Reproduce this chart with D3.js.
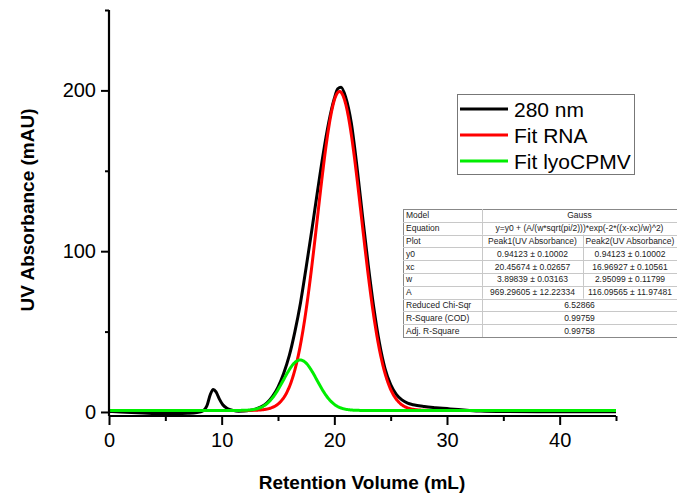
<!DOCTYPE html>
<html>
<head>
<meta charset="utf-8">
<script src="https://cdn.jsdelivr.net/npm/d3@7"></script>
<style>
  html, body { margin: 0; padding: 0; background: #fff; }
  svg { display: block; font-family: "Liberation Sans", Arial, sans-serif; }
</style>
</head>
<body>
<svg id="chart" width="677" height="496"></svg>
<script>
// Measured 280 nm absorbance trace (retention volume in mL, absorbance in mAU)
const traceX = [0, 1, 2, 3, 4, 5, 6, 7, 7.8, 8.3, 8.7, 9.0, 9.25, 9.5, 9.8, 10.1, 10.5, 11, 11.5, 12, 12.5, 13, 13.5, 14, 14.5, 15, 15.5, 16, 16.5, 17, 17.5, 18, 18.5, 19, 19.5, 20, 20.3, 20.6, 21, 21.5, 22, 22.5, 23, 23.5, 24, 24.5, 25, 25.5, 26, 26.5, 27, 28, 29, 30, 31, 32, 33, 35, 38, 41, 45];
const traceY = [0.3, 0, -0.4, -0.7, -0.9, -1.0, -1.0, -0.8, -0.3, 0.5, 4, 11, 14, 12.5, 8, 4.5, 2.2, 1, 0.5, 0.6, 1.0, 1.8, 3.2, 5.5, 9.5, 15.5, 24, 35, 50, 68, 90, 113, 137, 160, 180, 195, 201, 202, 196, 180, 153, 122, 92, 65, 43, 27, 17, 11, 7.5, 5.5, 4.5, 3.4, 2.7, 2.1, 1.5, 1.0, 0.6, 0.3, 0.2, 0.2, 0.2];

// Gauss fit parameters: y = y0 + (A/(w*sqrt(pi/2)))*exp(-2*((x-xc)/w)^2)
const fitNames = ["Peak1(UV Absorbance)", "Peak2(UV Absorbance)"];
const fitY0 = [0.94123, 0.94123];
const fitXc = [20.45674, 16.96927];
const fitW = [3.89839, 2.95099];
const fitA = [969.29605, 116.09565];

// Fit report table text
const tableRows = [
  ["Model", "Gauss"],
  ["Equation", "y=y0 + (A/(w*sqrt(pi/2)))*exp(-2*((x-xc)/w)^2)"],
  ["Plot", "Peak1(UV Absorbance)", "Peak2(UV Absorbance)"],
  ["y0", "0.94123 \u00b1 0.10002", "0.94123 \u00b1 0.10002"],
  ["xc", "20.45674 \u00b1 0.02657", "16.96927 \u00b1 0.10561"],
  ["w", "3.89839 \u00b1 0.03163", "2.95099 \u00b1 0.11799"],
  ["A", "969.29605 \u00b1 12.22334", "116.09565 \u00b1 11.97481"],
  ["Reduced Chi-Sqr", "6.52866"],
  ["R-Square (COD)", "0.99759"],
  ["Adj. R-Square", "0.99758"]
];

const legendLabels = ["280 nm", "Fit RNA", "Fit lyoCPMV"];
const seriesColors = ["#000000", "#ff0000", "#00ee00"];
const xTicks = [0, 10, 20, 30, 40];
const xMinor = [5, 15, 25, 35, 45];
const yTicks = [0, 100, 200];
const yMinor = [50, 150, 250];

const svg = d3.select("#chart");

const x = d3.scaleLinear().domain([0, 45]).range([109, 616]);
const y = d3.scaleLinear().domain([-2.5, 250]).range([416, 10]);

// Evaluate a Gauss model over the full x range
function gaussCurve(i) {
  const pts = [];
  const c = fitA[i] / (fitW[i] * Math.sqrt(Math.PI / 2));
  for (let k = 0; k <= 900; k++) {
    const xv = k * 0.05;
    const d = (xv - fitXc[i]) / fitW[i];
    pts.push([xv, fitY0[i] + c * Math.exp(-2 * d * d)]);
  }
  return pts;
}

const line = d3.line().x(d => x(d[0])).y(d => y(d[1])).curve(d3.curveMonotoneX);
const trace = traceX.map((v, i) => [v, traceY[i]]);

const curves = [trace, gaussCurve(0), gaussCurve(1)];
svg.append("g").selectAll("path").data(curves).join("path")
  .attr("d", d => line(d))
  .attr("fill", "none")
  .attr("stroke", (d, i) => seriesColors[i])
  .attr("stroke-width", 3)
  .attr("stroke-linejoin", "round");

// Axes
const xAxis = svg.append("g").attr("transform", "translate(0,416)")
  .call(d3.axisBottom(x).tickValues(xTicks).tickSize(9).tickPadding(8).tickFormat(d3.format("d")));
svg.append("g").attr("transform", "translate(0,416)")
  .call(d3.axisBottom(x).tickValues(xMinor).tickSize(5).tickFormat(""))
  .call(g => g.select(".domain").remove());

const yAxis = svg.append("g").attr("transform", "translate(109,0)")
  .call(d3.axisLeft(y).tickValues(yTicks).tickSize(8).tickPadding(5).tickFormat(d3.format("d")));
svg.append("g").attr("transform", "translate(109,0)")
  .call(d3.axisLeft(y).tickValues(yMinor).tickSize(4).tickFormat(""))
  .call(g => g.select(".domain").remove());

svg.selectAll(".domain").attr("stroke", "#000").attr("stroke-width", 2.2);
svg.selectAll(".tick line").attr("stroke", "#000").attr("stroke-width", 2);
svg.selectAll(".tick text").attr("font-size", 20).attr("fill", "#000")
  .attr("font-family", "'Liberation Sans', Arial, sans-serif");
xAxis.selectAll(".domain").attr("d", "M109,0H616");
yAxis.selectAll(".domain").attr("d", "M0,10V416");

// Axis titles
svg.append("text")
  .attr("x", 362).attr("y", 489)
  .attr("text-anchor", "middle")
  .attr("font-size", 19).attr("font-weight", "bold")
  .text("Retention Volume (mL)");
svg.append("text")
  .attr("transform", "translate(34,210) rotate(-90)")
  .attr("text-anchor", "middle")
  .attr("font-size", 19).attr("font-weight", "bold")
  .text("UV Absorbance (mAU)");

// Legend
const lg = svg.append("g");
lg.append("rect").attr("x", 457.5).attr("y", 94.5).attr("width", 177).attr("height", 80)
  .attr("fill", "#fff").attr("stroke", "#777").attr("stroke-width", 1);
legendLabels.forEach((t, i) => {
  const yy = 109 + i * 26;
  lg.append("line").attr("x1", 460).attr("x2", 508).attr("y1", yy).attr("y2", yy)
    .attr("stroke", seriesColors[i]).attr("stroke-width", 3);
  lg.append("text").attr("x", 514).attr("y", yy).attr("dy", "0.36em")
    .attr("font-size", 21).text(t);
});

// Fit report table
const tb = svg.append("g");
const colX = [403, 482, 583, 680];
const rowTop = 209, rowH = 12.8;
tb.append("rect").attr("x", colX[0] + 0.5).attr("y", rowTop + 0.5)
  .attr("width", colX[3] - colX[0]).attr("height", rowH * tableRows.length)
  .attr("fill", "#fff").attr("stroke", "#888").attr("stroke-width", 1);
tableRows.forEach((r, i) => {
  const top = rowTop + i * rowH;
  const cy = top + rowH / 2;
  if (i > 0) {
    tb.append("line").attr("x1", colX[0]).attr("x2", colX[3])
      .attr("y1", Math.round(top) + 0.5).attr("y2", Math.round(top) + 0.5)
      .attr("stroke", "#c8c8c8").attr("stroke-width", 1);
  }
  tb.append("line").attr("x1", colX[1] + 0.5).attr("x2", colX[1] + 0.5)
    .attr("y1", top).attr("y2", top + rowH).attr("stroke", "#c8c8c8");
  if (r.length === 3) {
    tb.append("line").attr("x1", colX[2] + 0.5).attr("x2", colX[2] + 0.5)
      .attr("y1", top).attr("y2", top + rowH).attr("stroke", "#c8c8c8");
  }
  tb.append("text").attr("x", colX[0] + 3).attr("y", cy).attr("dy", "0.35em")
    .attr("font-size", 8.5).attr("fill", "#222").text(r[0]);
  if (r.length === 2) {
    tb.append("text").attr("x", (colX[1] + 677) / 2).attr("y", cy).attr("dy", "0.35em")
      .attr("text-anchor", "middle").attr("font-size", 8.5).attr("fill", "#222").text(r[1]);
  } else {
    tb.append("text").attr("x", (colX[1] + colX[2]) / 2).attr("y", cy).attr("dy", "0.35em")
      .attr("text-anchor", "middle").attr("font-size", 8.5).attr("fill", "#222").text(r[1]);
    tb.append("text").attr("x", (colX[2] + 677) / 2).attr("y", cy).attr("dy", "0.35em")
      .attr("text-anchor", "middle").attr("font-size", 8.5).attr("fill", "#222").text(r[2]);
  }
});
</script>
</body>
</html>
